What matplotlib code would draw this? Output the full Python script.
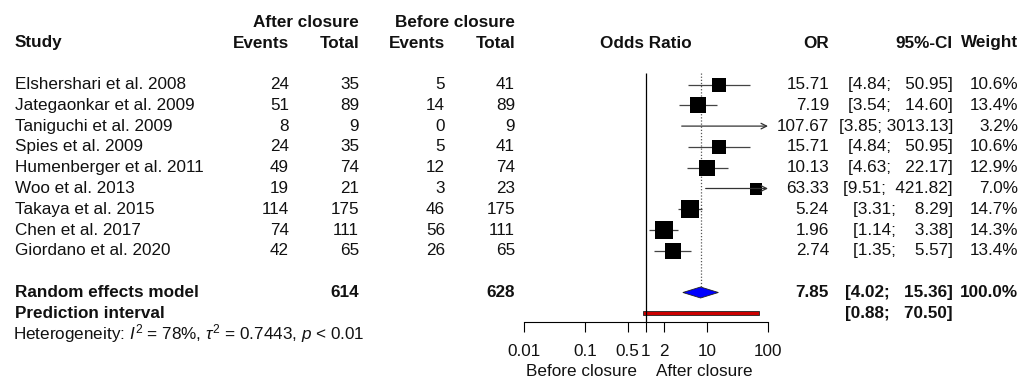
import numpy as np
import matplotlib
matplotlib.use("Agg")
from matplotlib import pyplot as plt
from matplotlib.patches import Polygon, Rectangle

plt.rcParams['font.family'] = ['Liberation Sans', 'DejaVu Sans']
plt.rcParams['mathtext.fontset'] = 'custom'
plt.rcParams['mathtext.rm'] = 'Liberation Sans'
plt.rcParams['mathtext.it'] = 'Liberation Sans:italic'
plt.rcParams['mathtext.bf'] = 'Liberation Sans:bold'

# data
studies = ['Elshershari et al. 2008', 'Jategaonkar et al. 2009', 'Taniguchi et al. 2009',
           'Spies et al. 2009', 'Humenberger et al. 2011', 'Woo et al. 2013',
           'Takaya et al. 2015', 'Chen et al. 2017', 'Giordano et al. 2020']
ev_after = [24, 51, 8, 24, 49, 19, 114, 74, 42]
n_after = [35, 89, 9, 35, 74, 21, 175, 111, 65]
ev_before = [5, 14, 0, 5, 12, 3, 46, 56, 26]
n_before = [41, 89, 9, 41, 74, 23, 175, 111, 65]
odds = [15.71, 7.19, 107.67, 15.71, 10.13, 63.33, 5.24, 1.96, 2.74]
ci_lo = [4.84, 3.54, 3.85, 4.84, 4.63, 9.51, 3.31, 1.14, 1.35]
ci_hi = [50.95, 14.60, 3013.13, 50.95, 22.17, 421.82, 8.29, 3.38, 5.57]
weights = [10.6, 13.4, 3.2, 10.6, 12.9, 7.0, 14.7, 14.3, 13.4]
total_after, total_before = 614, 628
pooled_or, pooled_lo, pooled_hi = 7.85, 4.02, 15.36
pred_lo, pred_hi = 0.88, 70.50
het_text = r"Heterogeneity: $I^2$ = 78%, $\tau^2$ = 0.7443, $p$ < 0.01"
xticks = [0.01, 0.1, 0.5, 1, 2, 10, 100]
xticklabels = ['0.01', '0.1', '0.5', '1', '2', '10', '100']

W, H = 1022, 382
fs = 12.3
tc = '#111111'

fig = plt.figure(figsize=(W / 100, H / 100), dpi=100)
ax_t = fig.add_axes([0, 0, 1, 1])
ax_t.set_xlim(0, W)
ax_t.set_ylim(H, 0)
ax_t.axis('off')

# forest panel, y in pixel rows, bottom spine is the OR axis
fx0, fx1, fy = 524, 768, 322
ax_f = fig.add_axes([fx0 / W, (H - fy) / H, (fx1 - fx0) / W, fy / H])
ax_f.set_xscale('log')
ax_f.set_xlim(0.01, 100)
ax_f.set_ylim(fy, 0)
ax_f.patch.set_alpha(0)
for s in ['top', 'left', 'right']:
    ax_f.spines[s].set_visible(False)
ax_f.spines['bottom'].set_linewidth(0.8)
ax_f.set_yticks([])
ax_f.set_xticks(xticks)
ax_f.set_xticklabels(xticklabels, fontsize=fs, color=tc)
ax_f.minorticks_off()
ax_f.tick_params(axis='x', direction='out', length=7.2, width=0.8, pad=9)

y_head1, y_head2 = 22.7, 43
y0, dy = 84.5, 20.8
rows = y0 + dy * np.arange(len(studies))
y_re = y0 + dy * (len(studies) + 1)
y_pi = y_re + dy
y_het = 334

# column positions (right edges)
c_study, c_ea, c_na, c_eb, c_nb = 15, 289, 359, 445, 515
c_or, c_ci, c_w = 829, 953, 1018

def txt(x, y, s, ha='right', bold=False, size=fs):
    ax_t.text(x, y, s, ha=ha, va='center', fontsize=size, color=tc,
              fontweight='bold' if bold else 'normal')

def ci_str(lo, hi):
    return '[%.2f; %s]' % (lo, ('%.2f' % hi).rjust(7))

# headers
txt(c_na, y_head1, 'After closure', bold=True)
txt(c_nb, y_head1, 'Before closure', bold=True)
txt(c_study, y_head2, 'Study', ha='left', bold=True)
txt(c_ea, y_head2, 'Events', bold=True)
txt(c_na, y_head2, 'Total', bold=True)
txt(c_eb, y_head2, 'Events', bold=True)
txt(c_nb, y_head2, 'Total', bold=True)
ax_f.text(1, y_head2, 'Odds Ratio', ha='center', va='center', fontsize=fs,
          fontweight='bold', color=tc)
txt(c_or, y_head2, 'OR', bold=True)
txt(c_ci, y_head2, '95%-CI', bold=True)
txt(c_w, y_head2, 'Weight', bold=True)

for i, y in enumerate(rows):
    txt(c_study, y, studies[i], ha='left')
    txt(c_ea, y, str(ev_after[i]))
    txt(c_na, y, str(n_after[i]))
    txt(c_eb, y, str(ev_before[i]))
    txt(c_nb, y, str(n_before[i]))
    txt(c_or, y, '%.2f' % odds[i])
    txt(c_ci, y, ci_str(ci_lo[i], ci_hi[i]))
    txt(c_w, y, '%.1f%%' % weights[i])

txt(c_study, y_re, 'Random effects model', ha='left', bold=True)
txt(c_na, y_re, str(total_after), bold=True)
txt(c_nb, y_re, str(total_before), bold=True)
txt(c_or, y_re, '%.2f' % pooled_or, bold=True)
txt(c_ci, y_re, ci_str(pooled_lo, pooled_hi), bold=True)
txt(c_w, y_re, '100.0%', bold=True)
txt(c_study, y_pi, 'Prediction interval', ha='left', bold=True)
txt(c_ci, y_pi, ci_str(pred_lo, pred_hi), bold=True)
txt(13, y_het, het_text, ha='left', size=fs)

txt(637, 372, 'Before closure')
txt(656, 372, 'After closure', ha='left')

# reference lines
ax_f.vlines(1, 73, fy, color='black', lw=0.9)
ax_f.vlines(pooled_or, 73, y_re - 6, color='#555555', lw=0.9, linestyles=(0, (1, 1.5)))

# study CIs and squares
xmin, xmax = ax_f.get_xlim()
for i, y in enumerate(rows):
    lo = max(ci_lo[i], xmin)
    hi = min(ci_hi[i], xmax)
    if ci_hi[i] > xmax:
        ax_f.annotate('', xy=(hi, y), xytext=(lo, y),
                      arrowprops=dict(arrowstyle='->', lw=0.9, color='#333333',
                                      shrinkA=0, shrinkB=0, mutation_scale=10))
    else:
        ax_f.hlines(y, lo, hi, color='#444444', lw=0.9)
    if xmin <= odds[i] <= xmax:
        side = 4.55 * np.sqrt(weights[i]) * 0.72
        ax_f.plot(odds[i], y, marker='s', ms=side, color='black', mec='black', mew=0)

# pooled diamond
ax_f.add_patch(Polygon([(pooled_lo, y_re), (pooled_or, y_re - 5.5),
                        (pooled_hi, y_re), (pooled_or, y_re + 5.5)],
                       closed=True, facecolor='#0000ff', edgecolor='#222222', lw=0.6))
# prediction interval
ax_f.add_patch(Rectangle((pred_lo, y_pi - 2), pred_hi - pred_lo, 4,
                         facecolor='#cc0000', edgecolor='#222222', lw=0.6,
                         clip_on=False))

plt.savefig('out.png', dpi=100)
